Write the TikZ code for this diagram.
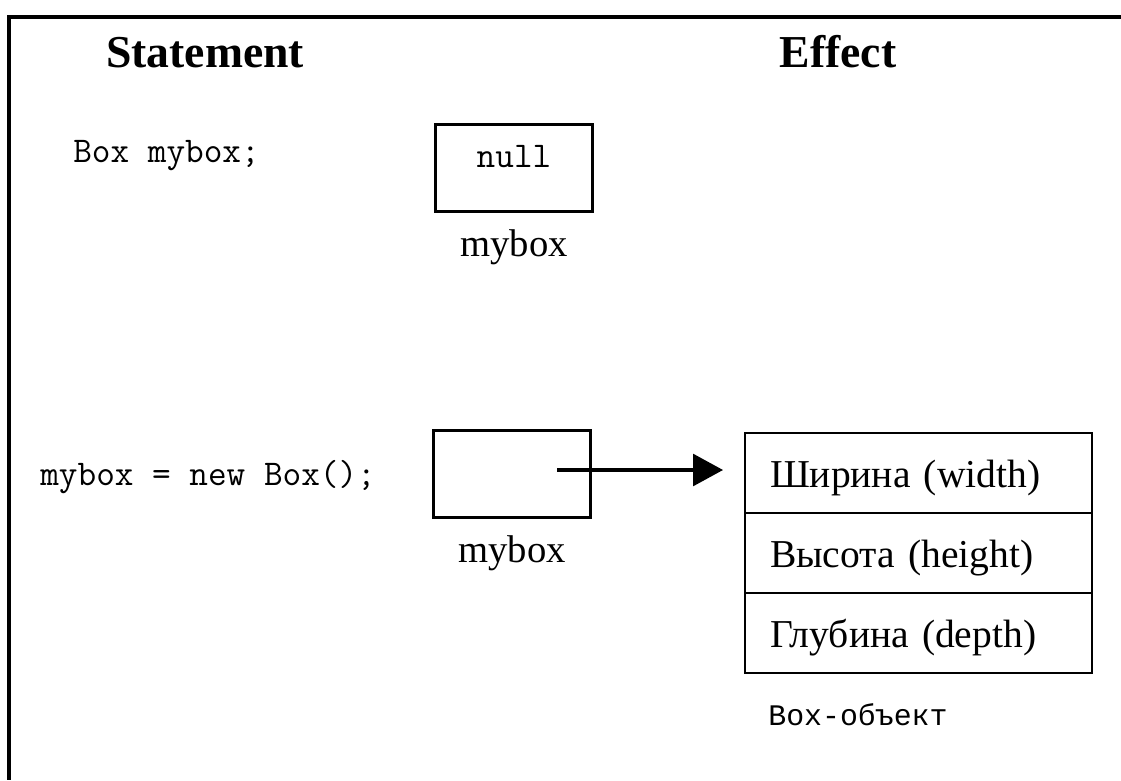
\documentclass[tikz,border=0pt]{standalone}
\usepackage{fontspec}
\setmainfont{Liberation Serif}
\newfontfamily\cyrmono{Liberation Mono}
\usepackage{tikz}
\usetikzlibrary{positioning}
\usetikzlibrary{arrows.meta}

\begin{document}
\begin{tikzpicture}[
        x=0.02cm, y=-0.02cm,
        heading/.style = {
        font=\fontsize{26}{30}\selectfont\bfseries, inner sep=0pt, anchor=base
        },
        code/.style = {
        font=\fontsize{20.6}{24}\selectfont\ttfamily, inner sep=0pt, anchor=base west
        },
        ptrbox/.style = {
        draw, line width=1.4pt, minimum width=3.14cm, minimum height=1.74cm,
        inner sep=0pt, outer sep=0pt, text height=6pt, text depth=6pt,
        font=\fontsize{20.6}{24}\selectfont\ttfamily
        },
        varname/.style = {font=\fontsize{22}{26}\selectfont, inner sep=0pt},
        field/.style = {
        draw, line width=1.4pt, minimum width=6.94cm, minimum height=1.6cm,
        text width=5.94cm, align=left, inner xsep=0.5cm, inner ysep=0pt,
        text height=20pt, text depth=4pt,
        outer sep=0pt, font=\fontsize{22.5}{26}\selectfont
        }
        ]
        \useasboundingbox (0,0) rectangle (1121,780);
        \draw[line width=1.8pt] (1121,17) -- (9,17) -- (9,780);

        \node[heading] (stmt) at (205,68) {Statement};
        \node[heading] (effect) at (838,68) {Effect};

        % Box mybox;
        \node[code] (decl) at (73,163) {Box mybox;};
        \node[ptrbox] (nullbox) at (514,168) {null};
        \node[varname, below=0.9cm of nullbox, anchor=base] (name1) {mybox};

        % mybox = new Box();
        \node[code] (alloc) at (40,485) {mybox = new Box();};
        \node[ptrbox] (newbox) at (512,474) {};
        \node[varname, below=0.9cm of newbox, anchor=base] (name2) {mybox};

        \node[field] (width) at (918.5,473) {Ширина (width)};
        \node[field, below=0pt of width] (height) {Высота (height)};
        \node[field, below=0pt of height] (depth) {Глубина (depth)};
        \node[code, font=\fontsize{17}{20}\selectfont\cyrmono] (obj) at (768,725) {Box-объект};

        \coordinate (ref) at ([xshift=0.9cm, yshift=0.08cm]newbox.center);
        \draw[-{Triangle[length=17pt,width=18pt]}, line width=2pt, shorten >=0.44cm]
            (ref) -- (ref -| width.west);
    \end{tikzpicture}
\end{document}
